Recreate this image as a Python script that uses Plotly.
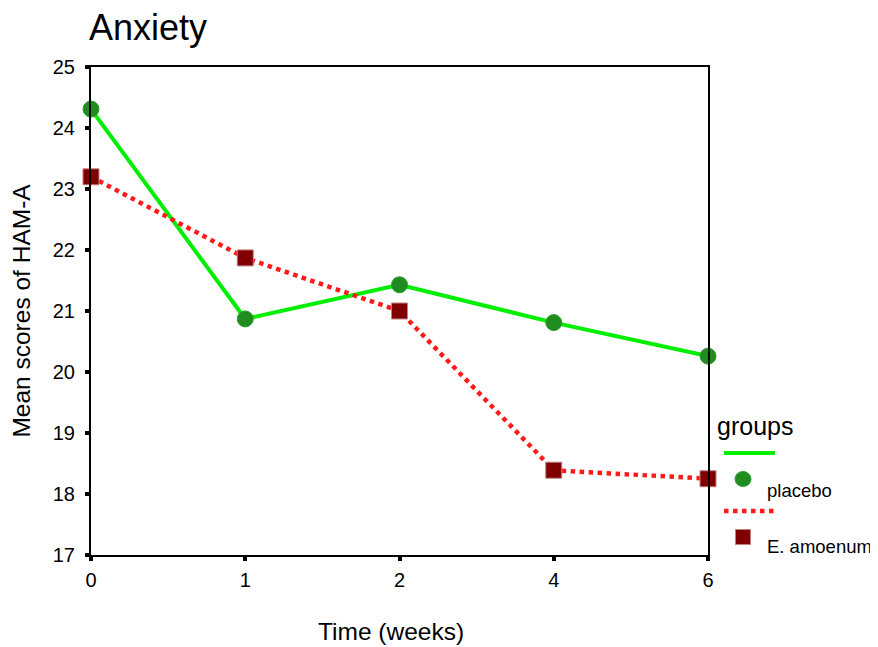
import plotly.graph_objects as go

time_labels = ["0", "1", "2", "4", "6"]
placebo = [24.31, 20.87, 21.43, 20.81, 20.26]
amoenum = [23.20, 21.87, 21.00, 18.39, 18.25]
y_ticks = [17, 18, 19, 20, 21, 22, 23, 24, 25]

xpos = list(range(len(time_labels)))
FONT = "Liberation Sans, Arial, sans-serif"
GREEN_LINE = "#00ee00"
GREEN_MARK = "#1e8c1e"
RED_LINE = "#ff1a1a"
MAROON = "#800000"

# page body has an 8px margin; size the figure so it fits the window
OFF = 8
W, H = 878 - OFF, 647 - OFF
L, R, T, B = 91 - OFF, 170, 67 - OFF, 92
PW, PH = W - L - R, H - T - B

def px(xp):
    return (xp - OFF - L) / PW

def py(yp):
    return (H - B - (yp - OFF)) / PH

fig = go.Figure()
fig.add_trace(go.Scatter(
    x=xpos, y=placebo, mode="lines+markers", name="placebo",
    line=dict(color=GREEN_LINE, width=4),
    marker=dict(symbol="circle", size=16, color=GREEN_MARK, line=dict(color="#2fa02f", width=1)),
    cliponaxis=False, showlegend=False))
fig.add_trace(go.Scatter(
    x=xpos, y=amoenum, mode="lines+markers", name="E. amoenum",
    line=dict(color=RED_LINE, width=4.5, dash="dot"),
    marker=dict(symbol="square", size=16, color=MAROON, line=dict(color="#c08080", width=1)),
    cliponaxis=False, showlegend=False))

fig.update_layout(
    width=W, height=H,
    margin=dict(l=L, r=R, t=T, b=B, autoexpand=False),
    paper_bgcolor="white", plot_bgcolor="white",
    font=dict(family=FONT, color="black"),
    title=dict(text="Anxiety", x=(89 - OFF)/W, xanchor="left", y=1-(27 - OFF)/H, yanchor="middle",
               font=dict(size=36, family=FONT)),
    xaxis=dict(range=[0, 4], tickvals=xpos, ticktext=time_labels, automargin=False,
               showgrid=False, zeroline=False, showline=True, linecolor="black", linewidth=2,
               mirror=True, ticks="outside", ticklen=4, tickwidth=4, tickcolor="black",
               tickfont=dict(size=20), ticklabelstandoff=2),
    yaxis=dict(range=[17, 25], tickvals=y_ticks, automargin=False,
               showgrid=False, zeroline=False, showline=True, linecolor="black", linewidth=2,
               mirror=True, ticks="outside", ticklen=4, tickwidth=4, tickcolor="black",
               tickfont=dict(size=20), ticklabelstandoff=6,
               title=dict(text="Mean scores of HAM-A", font=dict(size=24.5), standoff=16)),
)

# x-axis title (placed slightly left of centre as in the original)
fig.add_annotation(xref="paper", yref="paper", x=px(391), y=py(631),
                   text="Time (weeks)", showarrow=False, xanchor="center", yanchor="middle",
                   font=dict(size=24.5, family=FONT))

# manual legend (SPSS style)
fig.add_annotation(xref="paper", yref="paper", x=px(715), y=py(426),
                   text="groups", showarrow=False, xanchor="left", yanchor="middle",
                   font=dict(size=25, family=FONT))
fig.add_shape(type="line", xref="paper", yref="paper",
              x0=px(724), x1=px(775), y0=py(453), y1=py(453),
              line=dict(color=GREEN_LINE, width=4))
fig.add_shape(type="line", xref="paper", yref="paper",
              x0=px(724), x1=px(775), y0=py(511), y1=py(511),
              line=dict(color=RED_LINE, width=4.5, dash="dot"))
fig.add_shape(type="circle", xref="paper", yref="paper", xsizemode="pixel", ysizemode="pixel",
              xanchor=px(743), yanchor=py(479), x0=-8, x1=8, y0=-7.5, y1=7.5,
              fillcolor=GREEN_MARK, line=dict(color="#2fa02f", width=1))
fig.add_shape(type="rect", xref="paper", yref="paper", xsizemode="pixel", ysizemode="pixel",
              xanchor=px(743), yanchor=py(537), x0=-7.5, x1=7.5, y0=-7.5, y1=7.5,
              fillcolor=MAROON, line=dict(color="#c08080", width=1))
fig.add_annotation(xref="paper", yref="paper", x=px(765), y=py(490),
                   text="placebo", showarrow=False, xanchor="left", yanchor="middle",
                   font=dict(size=18.5, family=FONT))
fig.add_annotation(xref="paper", yref="paper", x=px(765), y=py(546),
                   text="E. amoenum", showarrow=False, xanchor="left", yanchor="middle",
                   font=dict(size=18.5, family=FONT))

fig.write_html("out.html")
